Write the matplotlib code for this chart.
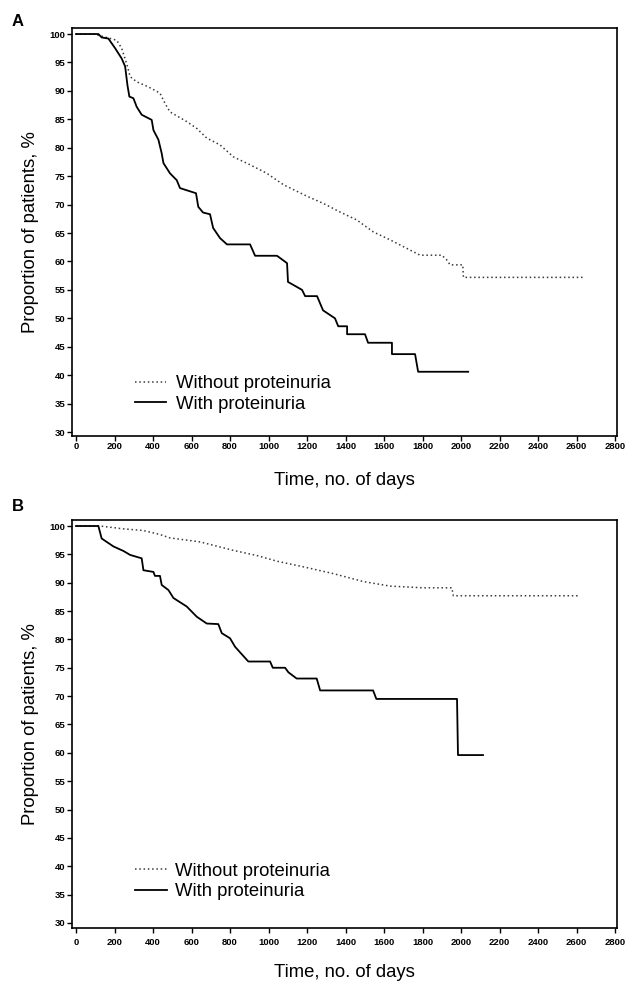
import matplotlib
matplotlib.use("Agg")
import matplotlib.pyplot as plt

# ---------------- data ----------------
labels = ["Without proteinuria", "With proteinuria"]
y_ticks = [30, 35, 40, 45, 50, 55, 60, 65, 70, 75, 80, 85, 90, 95, 100]
x_ticks = [0, 200, 400, 600, 800, 1000, 1200, 1400, 1600, 1800, 2000, 2200, 2400, 2600, 2800]

A_without_t = [0, 90, 159, 211, 237, 263, 281, 315, 376, 436, 462, 488, 575, 627, 679, 748, 817, 904,
               991, 1077, 1198, 1285, 1371, 1458, 1544, 1631, 1718, 1787, 1900, 1925, 1943, 2009, 2012, 2634]
A_without_s = [100, 100, 99.4, 98.9, 97.5, 94.8, 92.5, 91.6, 90.7, 89.6, 87.8, 86.3, 84.6, 83.4, 81.7, 80.5,
               78.4, 77.0, 75.5, 73.5, 71.5, 70.2, 68.7, 67.3, 65.2, 63.8, 62.3, 61.1, 61.1, 60.3, 59.4, 59.4,
               57.2, 57.2]

A_with_t = [0, 116, 133, 168, 203, 237, 255, 267, 277, 298, 315, 341, 393, 402, 428, 445, 454, 488, 523, 540,
            623, 635, 660, 696, 712, 748, 784, 904, 930, 1044, 1096, 1101, 1174, 1190, 1252, 1283, 1345, 1362,
            1408, 1408, 1501, 1517, 1641, 1641, 1761, 1777, 2037]
A_with_s = [100, 100, 99.4, 99.2, 97.5, 95.7, 94.3, 91.0, 89.0, 88.7, 87.2, 85.8, 84.9, 83.1, 81.4, 79.0, 77.3,
            75.5, 74.3, 72.9, 72.0, 69.6, 68.6, 68.3, 65.9, 64.1, 63.0, 63.0, 61.0, 61.0, 59.7, 56.4, 55.0, 53.9,
            53.9, 51.4, 50.0, 48.6, 48.6, 47.2, 47.2, 45.7, 45.7, 43.7, 43.7, 40.6, 40.6]

B_without_t = [0, 100, 125, 246, 350, 436, 488, 644, 748, 817, 939, 1043, 1181, 1337, 1493, 1631, 1804,
               1952, 1960, 2618]
B_without_s = [100, 100, 100, 99.5, 99.2, 98.5, 97.9, 97.2, 96.3, 95.7, 94.8, 93.8, 92.8, 91.6, 90.2, 89.4,
               89.1, 89.1, 87.7, 87.7]

B_with_t = [0, 116, 133, 194, 246, 281, 341, 350, 402, 410, 436, 445, 480, 506, 575, 627, 679, 739, 757, 800,
            826, 895, 1008, 1022, 1086, 1103, 1146, 1250, 1268, 1543, 1560, 1979, 1984, 2114]
B_with_s = [100, 100, 97.8, 96.4, 95.6, 94.9, 94.3, 92.2, 91.9, 91.2, 91.2, 89.6, 88.7, 87.3, 85.8, 84.0,
            82.8, 82.7, 81.1, 80.2, 78.7, 76.1, 76.1, 75.0, 75.0, 74.2, 73.1, 73.1, 71.0, 71.0, 69.5, 69.5,
            59.6, 59.6]

# ---------------- figure ----------------
plt.rcParams['font.family'] = ['Liberation Sans', 'DejaVu Sans']
W, H = 625, 983
fig = plt.figure(figsize=(W / 100, H / 100), dpi=100)


def make_axes(top_px, bottom_px):
    left_px, right_px = 72, 617
    return fig.add_axes([left_px / W, 1 - bottom_px / H, (right_px - left_px) / W, (bottom_px - top_px) / H])


def style(ax, ylim, xpad, xlabelpad):
    ax.set_xlim(-21, 2810)
    ax.set_ylim(*ylim)
    ax.set_xticks(x_ticks)
    ax.set_yticks(y_ticks)
    ax.set_xticklabels([str(v) for v in x_ticks], fontsize=6.8, fontweight='bold')
    ax.set_yticklabels([str(v) for v in y_ticks], fontsize=6.8, fontweight='bold')
    ax.tick_params(axis='both', direction='out', length=3.5, width=1.0, pad=1.5)
    ax.tick_params(axis='x', pad=xpad)
    for sp in ax.spines.values():
        sp.set_linewidth(1.2)
        sp.set_color('black')
    ax.set_xlabel("Time, no. of days", fontsize=13.3, labelpad=xlabelpad)
    ax.set_ylabel("Proportion of patients, %", fontsize=13.3, labelpad=7)


dot_style = dict(color='#3a3a3a', linewidth=1.1, linestyle=(0, (1, 1.8)))
solid_style = dict(color='black', linewidth=1.3, linestyle='-')

# Panel A
axA = make_axes(28, 436)
axA.plot(A_without_t, A_without_s, label=labels[0], **dot_style)
axA.plot(A_with_t, A_with_s, label=labels[1], **solid_style)
style(axA, (29.3, 101.06), 1.0, 15)
axA.legend(loc='center left', bbox_to_anchor=(0.1156, 0.103), frameon=False, fontsize=13.3,
           handlelength=1.68, handletextpad=0.55, labelspacing=0.2, borderpad=0, borderaxespad=0)
fig.text(18 / W, 1 - 22 / H, "A", fontsize=12, fontweight='bold', ha='center', va='center')

# Panel B
axB = make_axes(520, 928)
axB.plot(B_without_t, B_without_s, label=labels[0], **dot_style)
axB.plot(B_with_t, B_with_s, label=labels[1], **solid_style)
style(axB, (29.1, 101.06), 4.0, 12)
axB.legend(loc='center left', bbox_to_anchor=(0.1156, 0.114), frameon=False, fontsize=13.3,
           handlelength=1.75, handletextpad=0.4, labelspacing=0.2, borderpad=0, borderaxespad=0)
fig.text(18 / W, 1 - 507 / H, "B", fontsize=12, fontweight='bold', ha='center', va='center')

fig.savefig("out.png", dpi=100)
